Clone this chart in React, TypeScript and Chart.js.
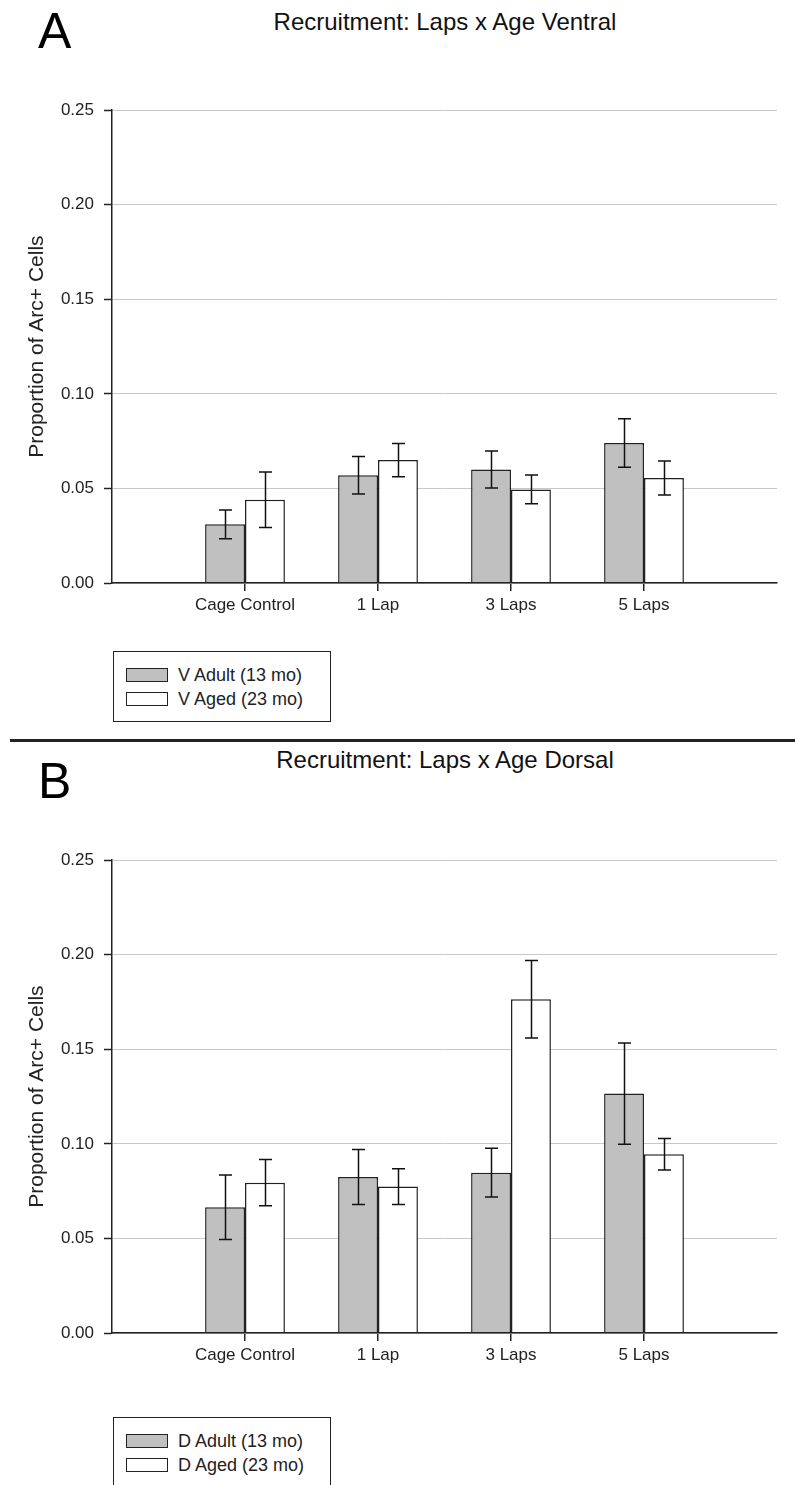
import React, { useEffect, useRef } from "react";
import { Chart, registerables } from "chart.js";

Chart.register(...registerables);

// ---- data ----
const categories = ["Cage Control", "1 Lap", "3 Laps", "5 Laps"];
const yTicks = [0, 0.05, 0.1, 0.15, 0.2, 0.25];

const ventralAdult = [0.031, 0.057, 0.06, 0.074];
const ventralAdultErr = [0.0076, 0.0099, 0.0098, 0.0128];
const ventralAged = [0.044, 0.065, 0.0495, 0.0555];
const ventralAgedErr = [0.0147, 0.0088, 0.0076, 0.009];

const dorsalAdult = [0.0665, 0.0825, 0.0848, 0.1266];
const dorsalAdultErr = [0.017, 0.0145, 0.0129, 0.0268];
const dorsalAged = [0.0795, 0.0774, 0.1765, 0.0945];
const dorsalAgedErr = [0.0122, 0.0095, 0.0205, 0.0083];

const FONT = "'Liberation Sans', Arial, sans-serif";
const INK = "#222";

const errorBarPlugin = {
  id: "errorBars",
  afterDatasetsDraw(chart: any) {
    const ctx = chart.ctx;
    const yScale = chart.scales.y;
    ctx.save();
    ctx.strokeStyle = "#111";
    ctx.lineWidth = 1.5;
    chart.data.datasets.forEach((ds: any, i: number) => {
      const meta = chart.getDatasetMeta(i);
      meta.data.forEach((el: any, j: number) => {
        const v = ds.data[j];
        const e = ds.errors ? ds.errors[j] : null;
        if (v == null || e == null) return;
        const x = Math.round(el.x) + 0.5;
        const yT = yScale.getPixelForValue(v + e);
        const yB = yScale.getPixelForValue(v - e);
        const cap = 6.5;
        ctx.beginPath();
        ctx.moveTo(x, yT);
        ctx.lineTo(x, yB);
        ctx.moveTo(x - cap, yT);
        ctx.lineTo(x + cap, yT);
        ctx.moveTo(x - cap, yB);
        ctx.lineTo(x + cap, yB);
        ctx.stroke();
      });
    });
    ctx.restore();
  },
};

type PanelProps = {
  top: number;
  adult: number[];
  adultErr: number[];
  aged: number[];
  agedErr: number[];
  adultLabel: string;
  agedLabel: string;
};

function BarPanel(props: PanelProps) {
  const ref = useRef<HTMLCanvasElement | null>(null);
  useEffect(() => {
    if (!ref.current) return;
    const labels = ["", ...categories, ""];
    const pad = (a: number[]) => [null, ...a, null];
    const chart = new Chart(ref.current, {
      type: "bar",
      data: {
        labels,
        datasets: [
          {
            label: props.adultLabel,
            data: pad(props.adult),
            errors: pad(props.adultErr),
            backgroundColor: "#c0c0c0",
            borderColor: INK,
            borderWidth: 1.5,
            categoryPercentage: 0.6,
            barPercentage: 1.0,
          } as any,
          {
            label: props.agedLabel,
            data: pad(props.aged),
            errors: pad(props.agedErr),
            backgroundColor: "#ffffff",
            borderColor: INK,
            borderWidth: 1.5,
            categoryPercentage: 0.6,
            barPercentage: 1.0,
          } as any,
        ],
      },
      options: {
        animation: false,
        responsive: false,
        maintainAspectRatio: false,
        layout: { padding: { left: 0, top: 16, right: 18, bottom: 0 } },
        plugins: {
          legend: { display: false },
          tooltip: { enabled: false },
          title: { display: false },
        },
        scales: {
          x: {
            type: "category",
            offset: false,
            grid: {
              offset: false,
              drawOnChartArea: false,
              drawTicks: true,
              tickLength: 8,
              lineWidth: 1.5,
              tickColor: (c: any) =>
                c.index === 0 || c.index === labels.length - 1 ? "rgba(0,0,0,0)" : INK,
            },
            border: { display: true, color: INK, width: 1.5, z: 1 },
            ticks: {
              autoSkip: false,
              maxRotation: 0,
              minRotation: 0,
              padding: 4,
              color: INK,
              font: { family: FONT, size: 17 },
            },
            afterFit: (s: any) => {
              s.height = 37;
            },
          },
          y: {
            min: 0,
            max: 0.25,
            grid: {
              color: "#c8c8c8",
              lineWidth: 1,
              tickLength: 8,
              tickColor: INK,
              tickWidth: 1.5,
            },
            border: { display: true, color: INK, width: 1.5, z: 1 },
            ticks: {
              padding: 10,
              color: INK,
              font: { family: FONT, size: 17 },
              callback: (v: any) => Number(v).toFixed(2),
            },
            afterBuildTicks: (s: any) => {
              s.ticks = yTicks.map((v) => ({ value: v }));
            },
            title: {
              display: true,
              text: "Proportion of Arc+ Cells",
              color: INK,
              font: { family: FONT, size: 21 },
              padding: { top: 25, bottom: 0 },
            },
            afterFit: (s: any) => {
              s.width = 112;
            },
          },
        },
      } as any,
      plugins: [errorBarPlugin],
    });
    return () => chart.destroy();
  }, []);
  return (
    <canvas
      ref={ref}
      width={795}
      height={530}
      style={{ position: "absolute", left: 0, top: props.top, width: 795, height: 530, display: "block" }}
    />
  );
}

function Legend(props: { top: number; adultLabel: string; agedLabel: string }) {
  const sw = (bg: string, top: number) => (
    <div
      style={{
        position: "absolute",
        left: 12,
        top,
        width: 42,
        height: 14,
        boxSizing: "border-box",
        border: `1.5px solid ${INK}`,
        background: bg,
      }}
    />
  );
  const txt = (t: string, top: number) => (
    <div
      style={{
        position: "absolute",
        left: 64,
        top,
        fontSize: 18,
        lineHeight: "22px",
        color: INK,
        whiteSpace: "nowrap",
      }}
    >
      {t}
    </div>
  );
  return (
    <div
      style={{
        position: "absolute",
        left: 113,
        top: props.top,
        width: 218,
        height: 71,
        boxSizing: "border-box",
        border: `1.5px solid ${INK}`,
        background: "#fff",
      }}
    >
      {sw("#c0c0c0", 16)}
      {txt(props.adultLabel, 12)}
      {sw("#ffffff", 40)}
      {txt(props.agedLabel, 36)}
    </div>
  );
}

export default function App() {
  const letter = (t: string, top: number) => (
    <div style={{ position: "absolute", left: 38, top, fontSize: 50, lineHeight: 1, color: "#000" }}>{t}</div>
  );
  const title = (t: string, top: number) => (
    <div
      style={{
        position: "absolute",
        left: 112,
        width: 666,
        top,
        textAlign: "center",
        fontSize: 24,
        lineHeight: 1,
        color: "#111",
        whiteSpace: "nowrap",
      }}
    >
      {t}
    </div>
  );
  return (
    <div
      style={{
        position: "absolute",
        left: 0,
        top: 0,
        width: 795,
        height: 1485,
        overflow: "hidden",
        background: "#fff",
        fontFamily: FONT,
      }}
    >
      {letter("A", 6)}
      {title("Recruitment: Laps x Age Ventral", 10)}
      <BarPanel
        top={90}
        adult={ventralAdult}
        adultErr={ventralAdultErr}
        aged={ventralAged}
        agedErr={ventralAgedErr}
        adultLabel="V Adult (13 mo)"
        agedLabel="V Aged (23 mo)"
      />
      <Legend top={651} adultLabel="V Adult (13 mo)" agedLabel="V Aged (23 mo)" />
      <div style={{ position: "absolute", left: 10, top: 739, width: 785, height: 3, background: INK }} />
      {letter("B", 756)}
      {title("Recruitment: Laps x Age Dorsal", 748)}
      <BarPanel
        top={840}
        adult={dorsalAdult}
        adultErr={dorsalAdultErr}
        aged={dorsalAged}
        agedErr={dorsalAgedErr}
        adultLabel="D Adult (13 mo)"
        agedLabel="D Aged (23 mo)"
      />
      <Legend top={1417} adultLabel="D Adult (13 mo)" agedLabel="D Aged (23 mo)" />
    </div>
  );
}
